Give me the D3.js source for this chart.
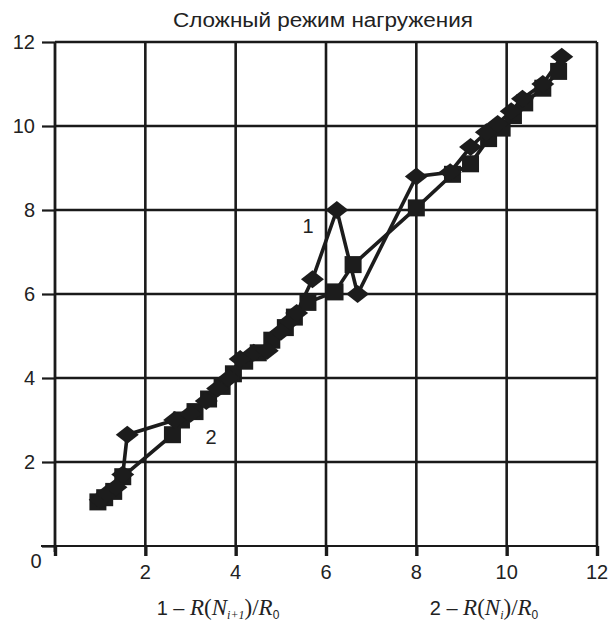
<!DOCTYPE html>
<html><head><meta charset="utf-8">
<script src="https://cdn.jsdelivr.net/npm/d3@7/dist/d3.min.js"></script>
<style>body{margin:0;background:#fff}svg{display:block}</style>
</head><body>
<svg id="c" width="608" height="624"></svg>
<script>
const title = "Сложный режим нагружения";
const xTicks = [2,4,6,8,10,12];
const yTicks = [2,4,6,8,10,12];
// Series 1: R(N_{i+1})/R0 (diamonds)
const series1X = [1.0,1.15,1.35,1.5,1.6,2.65,3.0,3.35,3.6,3.85,4.1,4.4,4.7,5.0,5.2,5.35,5.7,6.24,6.7,8.0,8.75,9.2,9.55,9.8,10.1,10.35,10.8,11.22];
const series1Y = [1.1,1.25,1.4,1.7,2.65,3.0,3.15,3.45,3.75,4.0,4.45,4.6,4.65,5.1,5.35,5.55,6.35,8.0,6.0,8.8,8.9,9.5,9.85,10.05,10.35,10.65,11.0,11.65];
// Series 2: R(N_i)/R0 (squares)
const series2X = [0.95,1.1,1.3,1.5,2.6,2.8,3.1,3.4,3.7,3.95,4.2,4.5,4.8,5.1,5.3,5.6,6.2,6.6,8.0,8.8,9.2,9.6,9.9,10.15,10.4,10.8,11.15];
const series2Y = [1.05,1.15,1.3,1.65,2.65,3.0,3.2,3.5,3.8,4.1,4.4,4.6,4.9,5.2,5.45,5.8,6.05,6.7,8.05,8.85,9.1,9.7,9.95,10.25,10.55,10.9,11.3];

const svg = d3.select("#c");
const x = d3.scaleLinear().domain([0,12]).range([55,597]);
const y = d3.scaleLinear().domain([0,12]).range([546,42]);
const sans = "'Liberation Sans', Arial, sans-serif";
const serif = "'Liberation Serif', 'Times New Roman', serif";

// grid
svg.append("g").selectAll("line").data(xTicks).join("line")
  .attr("x1", d=>x(d)).attr("x2", d=>x(d)).attr("y1", y(12)).attr("y2", y(0))
  .attr("stroke","#1a1a1a").attr("stroke-width",2.6);
svg.append("g").selectAll("line").data(yTicks).join("line")
  .attr("x1", x(0)).attr("x2", x(12)).attr("y1", d=>y(d)).attr("y2", d=>y(d))
  .attr("stroke","#1a1a1a").attr("stroke-width",2.4);

// axes
const xAxis = d3.axisBottom(x).tickValues([0].concat(xTicks)).tickSize(10).tickFormat("");
const gx = svg.append("g").attr("transform",`translate(0,${y(0)})`).call(xAxis);
gx.select(".domain").remove();
gx.selectAll(".tick line").attr("stroke","#1a1a1a").attr("stroke-width",3.4);
svg.append("line").attr("x1",41).attr("x2",x(12)).attr("y1",y(0)).attr("y2",y(0))
  .attr("stroke","#1a1a1a").attr("stroke-width",2.2);

const yAxis = d3.axisLeft(y).tickValues([0].concat(yTicks)).tickSize(13).tickFormat("");
const gy = svg.append("g").attr("transform",`translate(${x(0)},0)`).call(yAxis);
gy.select(".domain").remove();
gy.selectAll(".tick line").attr("stroke","#1a1a1a").attr("stroke-width",2.2);
svg.append("line").attr("x1",x(0)).attr("x2",x(0)).attr("y1",y(12)).attr("y2",y(0)+6)
  .attr("stroke","#1a1a1a").attr("stroke-width",2.8);

// tick labels
svg.append("g").selectAll("text").data(xTicks).join("text")
  .attr("x", d=>x(d)).attr("y", y(0)+33).attr("text-anchor","middle")
  .attr("font-family",sans).attr("font-size",20).attr("fill","#222").text(d=>d);
svg.append("g").selectAll("text").data(yTicks).join("text")
  .attr("x", x(0)-20).attr("y", d=>y(d)+7).attr("text-anchor","end")
  .attr("font-family",sans).attr("font-size",20).attr("fill","#222").text(d=>d);
svg.append("text").attr("x",36).attr("y",y(0)+22).attr("text-anchor","middle")
  .attr("font-family",sans).attr("font-size",20).attr("fill","#222").text("0");

// title
svg.append("text").attr("x",323).attr("y",27).attr("text-anchor","middle")
  .attr("font-family",sans).attr("font-size",20).attr("textLength",300).attr("lengthAdjust","spacingAndGlyphs")
  .attr("fill","#222").text(title);

// series
const s1 = series1X.map((v,i)=>[v,series1Y[i]]);
const s2 = series2X.map((v,i)=>[v,series2Y[i]]);
const line = d3.line().x(d=>x(d[0])).y(d=>y(d[1]));
const ink = "#1c1c1c";
svg.append("path").datum(s2).attr("d",line).attr("fill","none").attr("stroke",ink).attr("stroke-width",3.6);
svg.append("path").datum(s1).attr("d",line).attr("fill","none").attr("stroke",ink).attr("stroke-width",3.6);
svg.append("g").selectAll("rect").data(s2).join("rect")
  .attr("x",d=>x(d[0])-8.5).attr("y",d=>y(d[1])-8.5).attr("width",17).attr("height",17).attr("fill",ink);
const dia = "M0,-9L11.5,0L0,9L-11.5,0Z";
svg.append("g").selectAll("path").data(s1).join("path")
  .attr("transform",d=>`translate(${x(d[0])},${y(d[1])})`).attr("d",dia).attr("fill",ink);

// curve labels
svg.append("text").attr("x",308).attr("y",233).attr("text-anchor","middle")
  .attr("font-family",sans).attr("font-size",20).attr("fill","#222").text("1");
svg.append("text").attr("x",211).attr("y",444).attr("text-anchor","middle")
  .attr("font-family",sans).attr("font-size",20).attr("fill","#222").text("2");

// legend
function legend(cx, num, sub){
  const t = svg.append("text").attr("x",cx).attr("y",615).attr("text-anchor","middle")
    .attr("font-size",20).attr("fill","#222");
  t.append("tspan").attr("font-family",sans).text(num+" – ");
  t.append("tspan").attr("font-family",serif).attr("font-style","italic").attr("font-size",23).text("R");
  t.append("tspan").attr("font-family",serif).attr("font-size",23).text("(");
  t.append("tspan").attr("font-family",serif).attr("font-style","italic").attr("font-size",23).text("N");
  t.append("tspan").attr("font-family",serif).attr("font-style","italic").attr("font-size",12).attr("dy",4).text(sub);
  t.append("tspan").attr("font-family",serif).attr("font-size",23).attr("dy",-4).text(")/");
  t.append("tspan").attr("font-family",serif).attr("font-style","italic").attr("font-size",23).text("R");
  t.append("tspan").attr("font-family",sans).attr("font-size",12).attr("dy",4).text("0");
}
legend(218,"1","i+1");
legend(484,"2","i");
</script>
</body></html>
